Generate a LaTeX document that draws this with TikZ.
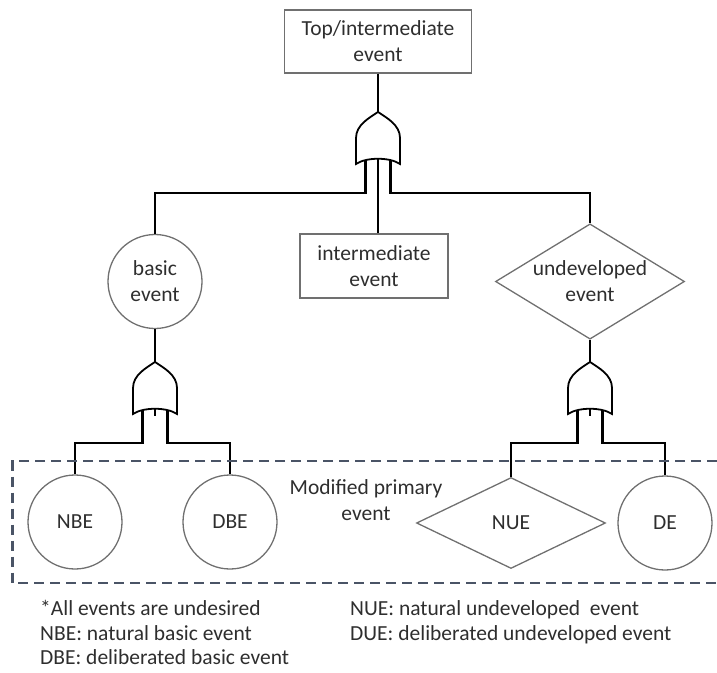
\documentclass[tikz,border=0pt]{standalone}
\usepackage{fontspec}
\setmainfont{Carlito}
\usetikzlibrary{shapes.geometric}
\definecolor{boxgray}{HTML}{707070}
\definecolor{txtgray}{HTML}{2E2E2E}
\definecolor{dashgray}{HTML}{4A5466}
\tikzset{
  orgate/.pic={
    \draw[line width=1.8pt,fill=white] (0,0) .. controls (9,6) and (22,13) .. (22,26) -- (22,52)
      .. controls (12,45) and (-12,45) .. (-22,52) -- (-22,26)
      .. controls (-22,13) and (-9,6) .. (0,0) -- cycle;
    \coordinate (-tip) at (0,0);
    \coordinate (-l) at (-12.5,48);
    \coordinate (-m) at (0,46.8);
    \coordinate (-r) at (12.5,48);
    \coordinate (-lend) at (-12.5,81);
    \coordinate (-rend) at (12.5,81);
  }
}
\begin{document}
\begin{tikzpicture}[x=1pt,y=-1pt,
    every node/.style={text=txtgray,font=\fontsize{21.5}{26}\selectfont,align=center},
    evbox/.style={draw=boxgray,line width=1.3pt,rectangle,inner sep=0pt},
    evcirc/.style={draw=boxgray,line width=1.3pt,circle,minimum size=94pt,inner sep=0pt},
    evdiam/.style={draw=boxgray,line width=1.3pt,diamond,minimum width=189pt,minimum height=91pt,inner xsep=-15pt,inner ysep=-5pt},
    conn/.style={line width=2.5pt,black}]
  \useasboundingbox (0,0) rectangle (717,672);

  \node[evbox,minimum width=187pt,minimum height=63pt] (top) at (378,41.5) {Top/intermediate\\event};
  \node[evcirc] (basic) at (155,281.5) {basic\\event};
  \node[evbox,minimum width=148pt,minimum height=64pt] (inter) at (374,266) {intermediate\\event};
  \node[evdiam] (undev) at (590,281.5) {undeveloped\\event};

  \node[evcirc] (nbe) at (75,522) {NBE};
  \node[evcirc] (dbe) at (230,522) {DBE};
  \node[evdiam] (nue) at (511,523) {NUE};
  \node[evcirc] (de) at (665,523) {DE};
  \node (mod) at (366,500) {Modified primary\\event};

  \pic (g0) at (378,112) {orgate};
  \pic (g1) at (155,362) {orgate};
  \pic (g2) at (590,362) {orgate};

  \draw[conn] (top.south) -- (g0-tip);
  \draw[conn] (g0-l) -- (g0-lend) -| (basic.north);
  \draw[conn] (g0-r) -- (g0-rend) -| (undev.north);
  \draw[conn] (g0-m) -- (g0-m |- inter.north);

  \draw[conn] (basic.south) -- (g1-tip);
  \draw[conn] (g1-l) -- (g1-lend) -| (nbe.north);
  \draw[conn] (g1-r) -- (g1-rend) -| (dbe.north);
  \draw[conn] (g1-m) -- ++(0,7);

  \draw[conn] (undev.south) -- (g2-tip);
  \draw[conn] (g2-l) -- (g2-lend) -| (nue.north);
  \draw[conn] (g2-r) -- (g2-rend) -| (de.north);
  \draw[conn] (g2-m) -- ++(0,7);

  \draw[dashgray,line width=2.7pt,dash pattern=on 10pt off 6pt] (717,461) -- (12.5,461) -- (12.5,583) -- (717,583);

  \foreach \x/\y/\t [count=\i] in {
      40/615/{*All events are undesired},
      40/640/{NBE: natural basic event},
      40/664/{DBE: deliberated basic event},
      350/615/{NUE: natural undeveloped~ event},
      350/640/{DUE: deliberated undeveloped event}}{
    \node[anchor=base west,inner sep=0pt] (leg\i) at (\x,\y) {\t};
  }
\end{tikzpicture}
\end{document}
